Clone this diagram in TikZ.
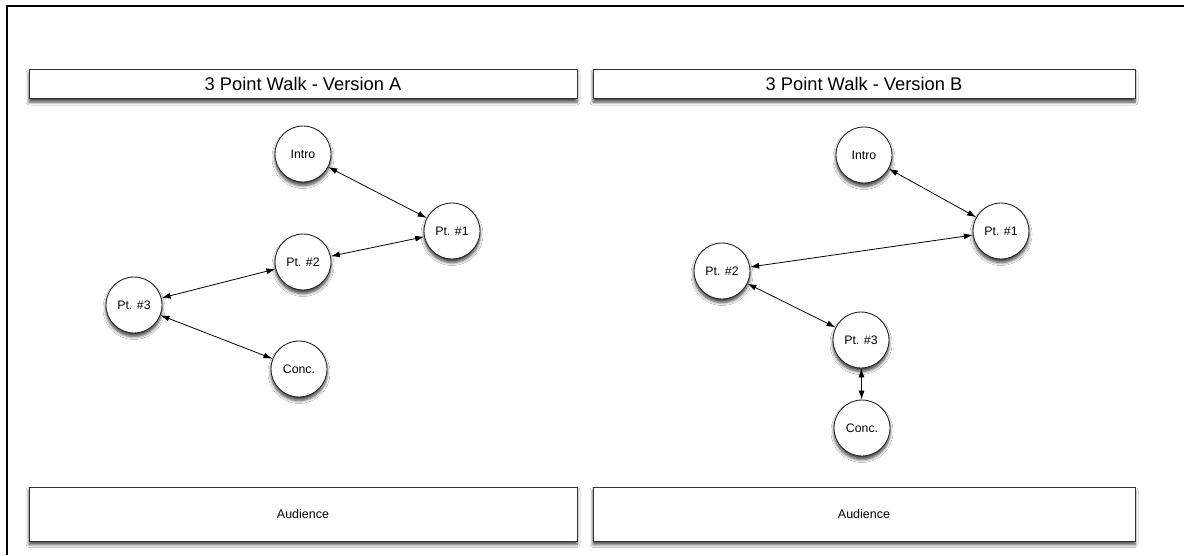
\documentclass[tikz,border=0pt]{standalone}
\usepackage{fontspec}
\setmainfont{Liberation Sans}
\usetikzlibrary{arrows.meta,shadows.blur}
\begin{document}
\begin{tikzpicture}[x=1pt,y=-1pt,
  shad/.style={blur shadow={shadow xshift=0pt,shadow yshift=-3.5pt,shadow blur radius=3pt,shadow blur steps=6,shadow opacity=75}},
  titlebox/.style={draw=black!80,line width=1pt,fill=white,shad,inner sep=0pt,font=\fontsize{18.3}{21}\selectfont},
  audbox/.style={draw=black!80,line width=1pt,fill=white,shad,inner sep=0pt,font=\fontsize{12.5}{15}\selectfont},
  pt/.style={circle,draw=black!85,line width=0.9pt,fill=white,shad,minimum size=56pt,inner sep=0pt,font=\fontsize{12.3}{15}\selectfont},
  link/.style={line width=0.8pt,{Latex[length=9pt,width=6pt]}-{Latex[length=9pt,width=6pt]}}
]
\useasboundingbox (0,0) rectangle (1184,555);
\fill[white] (0,0) rectangle (1184,555);
\draw[line width=2.4pt] (7,555) -- (7,6) -- (1184,6);

% Version A
\node[titlebox,minimum width=548pt,minimum height=29pt] (tA) at (303,84) {3 Point Walk - Version A};
\node[audbox,minimum width=548pt,minimum height=54pt] (aA) at (303,514) {Audience};
\node[pt] (introA) at (303,154) {Intro};
\node[pt] (p1A) at (452,231) {Pt. \#1};
\node[pt] (p2A) at (303,262) {Pt. \#2};
\node[pt] (p3A) at (134,305) {Pt. \#3};
\node[pt] (concA) at (299,369) {Conc.};
\draw[link] (introA) -- (p1A);
\draw[link] (p2A) -- (p1A);
\draw[link] (p3A) -- (p2A);
\draw[link] (p3A) -- (concA);

% Version B
\node[titlebox,minimum width=542pt,minimum height=29pt] (tB) at (864,84) {3 Point Walk - Version B};
\node[audbox,minimum width=542pt,minimum height=54pt] (aB) at (864,514) {Audience};
\node[pt] (introB) at (864,155) {Intro};
\node[pt] (p1B) at (1001,231) {Pt. \#1};
\node[pt] (p2B) at (722,271) {Pt. \#2};
\node[pt] (p3B) at (861,340) {Pt. \#3};
\node[pt] (concB) at (862,428) {Conc.};
\draw[link] (introB) -- (p1B);
\draw[link] (p2B) -- (p1B);
\draw[link] (p2B) -- (p3B);
\draw[link] (p3B) -- (concB);
\end{tikzpicture}
\end{document}
